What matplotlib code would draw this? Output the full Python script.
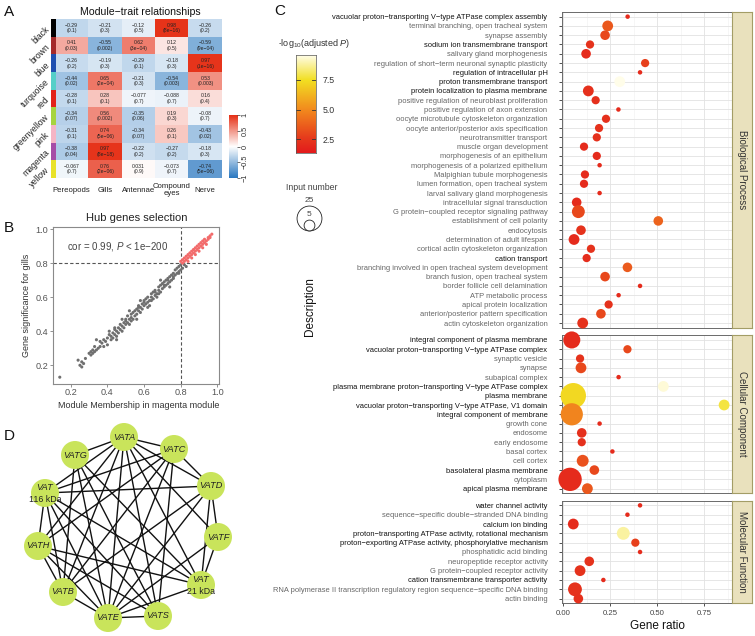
import numpy as np
import matplotlib
matplotlib.use('Agg')
import matplotlib.pyplot as plt
from matplotlib.colors import LinearSegmentedColormap, Normalize, ListedColormap
from matplotlib.patches import Circle

plt.rcParams['font.family'] = ['Liberation Sans', 'DejaVu Sans']
plt.rcParams['mathtext.fontset'] = 'custom'
plt.rcParams['mathtext.rm'] = 'Liberation Sans'
plt.rcParams['mathtext.it'] = 'Liberation Sans:italic'

# ---------------- data: panel A ----------------
modules = ['black', 'brown', 'blue', 'turquoise', 'red', 'greenyellow', 'pink', 'magenta', 'yellow']
module_colors = ['#000000', '#a52a2a', '#1f4fb0', '#55cfc8', '#e2231a', '#a6d43f', '#f5b5c5', '#a64ca6', '#e8e22a']
traits = ['Pereopods', 'Gills', 'Antennae', 'Compound\neyes', 'Nerve']
corr = [
    [-0.29, -0.21, -0.12, 0.98, -0.26],
    [0.41, -0.55, 0.62, 0.12, -0.59],
    [-0.26, -0.19, -0.29, -0.18, 0.97],
    [-0.44, 0.65, -0.21, -0.54, 0.53],
    [-0.28, 0.28, -0.077, -0.088, 0.16],
    [-0.34, 0.56, -0.35, 0.19, -0.08],
    [-0.31, 0.74, -0.34, 0.26, -0.43],
    [-0.38, 0.97, -0.22, -0.27, -0.18],
    [-0.067, 0.76, 0.031, -0.073, -0.74],
]
pvals = [
    ['0.1', '0.3', '0.5', '8e-16', '0.2'],
    ['0.03', '0.002', '3e-04', '0.5', '9e-04'],
    ['0.2', '0.3', '0.1', '0.3', '1e-16'],
    ['0.02', '2e-04', '0.3', '0.003', '0.003'],
    ['0.1', '0.1', '0.7', '0.7', '0.4'],
    ['0.07', '0.002', '0.06', '0.3', '0.7'],
    ['0.1', '5e-06', '0.07', '0.1', '0.02'],
    ['0.04', '8e-18', '0.2', '0.2', '0.3'],
    ['0.7', '2e-06', '0.9', '0.7', '5e-06'],
]

# ---------------- data: panel B ----------------
mm_grey = [0.14, 0.24, 0.25, 0.26, 0.26, 0.27, 0.28, 0.30, 0.31, 0.31, 0.32, 0.32, 0.33, 0.33, 0.34, 0.34,
           0.35, 0.36, 0.37, 0.38, 0.38, 0.39, 0.40, 0.40, 0.41, 0.42, 0.42, 0.43, 0.43, 0.44, 0.44, 0.45,
           0.45, 0.46, 0.46, 0.47, 0.47, 0.48, 0.48, 0.49, 0.49, 0.50, 0.50, 0.51, 0.51, 0.52, 0.52, 0.53,
           0.53, 0.54, 0.54, 0.55, 0.55, 0.56, 0.56, 0.57, 0.57, 0.58, 0.58, 0.59, 0.59, 0.60, 0.60, 0.61,
           0.61, 0.62, 0.62, 0.63, 0.63, 0.64, 0.64, 0.65, 0.65, 0.66, 0.66, 0.67, 0.67, 0.68, 0.68, 0.69,
           0.69, 0.70, 0.70, 0.71, 0.71, 0.72, 0.72, 0.73, 0.73, 0.74, 0.74, 0.75, 0.75, 0.76, 0.76, 0.77,
           0.77, 0.78, 0.78, 0.79, 0.79, 0.80, 0.80, 0.81, 0.82, 0.83, 0.45, 0.52, 0.58, 0.62, 0.69, 0.74,
           0.56, 0.48, 0.41, 0.36, 0.53, 0.60, 0.66, 0.71, 0.76, 0.64, 0.57, 0.50, 0.44, 0.68, 0.73, 0.79]
gs_grey = [0.13, 0.23, 0.20, 0.19, 0.22, 0.21, 0.24, 0.27, 0.28, 0.26, 0.27, 0.29, 0.28, 0.31, 0.35, 0.29,
           0.30, 0.31, 0.33, 0.31, 0.35, 0.34, 0.32, 0.36, 0.38, 0.35, 0.37, 0.39, 0.36, 0.38, 0.41, 0.37,
           0.40, 0.39, 0.42, 0.41, 0.44, 0.40, 0.43, 0.45, 0.42, 0.44, 0.47, 0.45, 0.49, 0.47, 0.44, 0.48,
           0.50, 0.47, 0.51, 0.49, 0.52, 0.50, 0.53, 0.52, 0.55, 0.51, 0.54, 0.56, 0.53, 0.55, 0.58, 0.56,
           0.59, 0.57, 0.60, 0.58, 0.55, 0.60, 0.62, 0.59, 0.63, 0.61, 0.64, 0.62, 0.60, 0.64, 0.66, 0.63,
           0.67, 0.65, 0.68, 0.66, 0.69, 0.67, 0.70, 0.68, 0.71, 0.69, 0.72, 0.70, 0.73, 0.71, 0.74, 0.73,
           0.76, 0.74, 0.77, 0.75, 0.78, 0.76, 0.79, 0.77, 0.79, 0.78, 0.35, 0.52, 0.58, 0.54, 0.70, 0.66,
           0.47, 0.47, 0.40, 0.34, 0.46, 0.57, 0.63, 0.67, 0.72, 0.58, 0.54, 0.46, 0.42, 0.62, 0.70, 0.74]
mm_red = [0.80, 0.81, 0.81, 0.82, 0.82, 0.83, 0.83, 0.84, 0.84, 0.85, 0.85, 0.86, 0.86, 0.87, 0.87, 0.88,
          0.88, 0.89, 0.89, 0.90, 0.90, 0.91, 0.91, 0.92, 0.92, 0.93, 0.93, 0.94, 0.94, 0.95, 0.95, 0.96,
          0.96, 0.97, 0.84, 0.86, 0.88, 0.90, 0.92]
gs_red = [0.81, 0.82, 0.80, 0.81, 0.83, 0.82, 0.84, 0.83, 0.81, 0.84, 0.86, 0.85, 0.83, 0.86, 0.88, 0.87,
          0.85, 0.88, 0.90, 0.89, 0.87, 0.90, 0.92, 0.91, 0.89, 0.92, 0.94, 0.93, 0.91, 0.94, 0.95, 0.95,
          0.96, 0.97, 0.85, 0.87, 0.89, 0.91, 0.93]
b_ticks = [0.2, 0.4, 0.6, 0.8, 1.0]

# ---------------- data: panel C ----------------
bp_terms = ['vacuolar proton\u2212transporting V\u2212type ATPase complex assembly',
            'terminal branching, open tracheal system', 'synapse assembly',
            'sodium ion transmembrane transport', 'salivary gland morphogenesis',
            'regulation of short\u2212term neuronal synaptic plasticity', 'regulation of intracellular pH',
            'proton transmembrane transport', 'protein localization to plasma membrane',
            'positive regulation of neuroblast proliferation', 'positive regulation of axon extension',
            'oocyte microtubule cytoskeleton organization', 'oocyte anterior/posterior axis specification',
            'neurotransmitter transport', 'muscle organ development', 'morphogenesis of an epithelium',
            'morphogenesis of a polarized epithelium', 'Malpighian tubule morphogenesis',
            'lumen formation, open tracheal system', 'larval salivary gland morphogenesis',
            'intracellular signal transduction', 'G protein\u2212coupled receptor signaling pathway',
            'establishment of cell polarity', 'endocytosis', 'determination of adult lifespan',
            'cortical actin cytoskeleton organization', 'cation transport',
            'branching involved in open tracheal system development', 'branch fusion, open tracheal system',
            'border follicle cell delamination', 'ATP metabolic process', 'apical protein localization',
            'anterior/posterior pattern specification', 'actin cytoskeleton organization']
bp_ratio = [0.342, 0.236, 0.222, 0.142, 0.121, 0.435, 0.408, 0.300, 0.133, 0.172, 0.293, 0.227, 0.190, 0.178,
            0.110, 0.178, 0.193, 0.115, 0.110, 0.193, 0.071, 0.080, 0.505, 0.094, 0.057, 0.147, 0.124, 0.341,
            0.222, 0.408, 0.294, 0.241, 0.200, 0.103]
bp_count = [1, 5, 4, 3, 4, 3, 1, 5, 5, 3, 1, 3, 3, 3, 3, 3, 1, 3, 3, 1, 4, 7, 4, 4, 5, 3, 3, 4, 4, 1, 1, 3, 4, 5]
bp_logp = [2.0, 3.5, 3.0, 2.3, 2.0, 2.8, 2.0, 9.6, 2.2, 2.2, 2.0, 2.2, 2.3, 2.2, 2.0, 2.0, 2.0, 2.0, 2.0, 2.0,
           2.0, 3.0, 3.8, 2.3, 2.0, 2.3, 2.1, 3.6, 3.0, 2.0, 2.0, 2.3, 3.0, 2.3]
bp_dark = [1, 0, 0, 1, 0, 0, 1, 1, 1, 0, 0, 0, 0, 0, 0, 0, 0, 0, 0, 0, 0, 0, 0, 0, 0, 0, 1, 0, 0, 0, 0, 0, 0, 0]

cc_terms = ['integral component of plasma membrane', 'vacuolar proton\u2212transporting V\u2212type ATPase complex',
            'synaptic vesicle', 'synapse', 'subapical complex',
            'plasma membrane proton\u2212transporting V\u2212type ATPase complex', 'plasma membrane',
            'vacuolar proton\u2212transporting V\u2212type ATPase, V1 domain', 'integral component of membrane',
            'growth cone', 'endosome', 'early endosome', 'basal cortex', 'cell cortex',
            'basolateral plasma membrane', 'cytoplasm', 'apical plasma membrane']
cc_ratio = [0.045, 0.341, 0.089, 0.094, 0.294, 0.532, 0.053, 0.855, 0.045, 0.193, 0.098, 0.098, 0.261, 0.103,
            0.165, 0.036, 0.128]
cc_count = [12, 3, 3, 5, 1, 5, 26, 5, 20, 1, 4, 3, 1, 6, 4, 22, 5]
cc_logp = [2.0, 3.0, 2.3, 3.0, 2.0, 9.4, 7.3, 7.8, 4.8, 2.0, 2.2, 2.2, 2.0, 3.3, 3.0, 2.0, 3.5]
cc_dark = [1, 1, 0, 0, 0, 1, 1, 1, 1, 0, 0, 0, 0, 0, 1, 0, 1]

mf_terms = ['water channel activity', 'sequence\u2212specific double\u2212stranded DNA binding', 'calcium ion binding',
            'proton\u2212transporting ATPase activity, rotational mechanism',
            'proton\u2212exporting ATPase activity, phosphorylative mechanism', 'phosphatidic acid binding',
            'neuropeptide receptor activity', 'G protein\u2212coupled receptor activity',
            'cation transmembrane transporter activity',
            'RNA polymerase II transcription regulatory region sequence\u2212specific DNA binding', 'actin binding']
mf_ratio = [0.408, 0.341, 0.053, 0.319, 0.383, 0.408, 0.138, 0.089, 0.213, 0.062, 0.080]
mf_count = [1, 1, 5, 7, 3, 1, 4, 5, 1, 8, 4]
mf_logp = [2.0, 2.0, 2.0, 8.8, 2.8, 2.0, 2.3, 2.3, 2.0, 2.3, 2.2]
mf_dark = [1, 0, 1, 1, 1, 0, 0, 0, 1, 0, 0]

facet_names = ['Biological Process', 'Cellular Component', 'Molecular Function']
ratio_ticks = [0.0, 0.25, 0.5, 0.75]
logp_ticks = [2.5, 5.0, 7.5]
legend_counts = [25, 5]

# ---------------- data: panel D ----------------
genes = ['VATA', 'VATG', 'VATC', 'VAT\n116 kDa', 'VATD', 'VATF', 'VATH', 'VAT\n21 kDa', 'VATB', 'VATE', 'VATS']
edges = [('VATA', 'VATG'), ('VATA', 'VATC'), ('VATA', 'VAT\n116 kDa'), ('VATA', 'VATD'), ('VATA', 'VATH'),
         ('VATA', 'VATB'), ('VATA', 'VATE'), ('VATA', 'VATS'), ('VATA', 'VAT\n21 kDa'), ('VATA', 'VATF'),
         ('VATG', 'VATE'), ('VATG', 'VATB'), ('VATG', 'VATS'), ('VATG', 'VAT\n21 kDa'),
         ('VATC', 'VAT\n116 kDa'), ('VATC', 'VATH'), ('VATC', 'VATE'), ('VATC', 'VATB'), ('VATC', 'VATD'),
         ('VATC', 'VATS'), ('VATD', 'VAT\n116 kDa'), ('VATD', 'VATE'), ('VATD', 'VATB'), ('VATD', 'VATF'),
         ('VATD', 'VAT\n21 kDa'), ('VAT\n116 kDa', 'VATH'), ('VAT\n116 kDa', 'VATB'), ('VAT\n116 kDa', 'VATE'),
         ('VAT\n116 kDa', 'VAT\n21 kDa'), ('VAT\n116 kDa', 'VATS'), ('VATF', 'VATE'), ('VATF', 'VAT\n21 kDa'),
         ('VATH', 'VATB'), ('VATH', 'VATE'), ('VATH', 'VAT\n21 kDa'), ('VATH', 'VATS'), ('VATB', 'VATE'),
         ('VATE', 'VATS'), ('VATE', 'VAT\n21 kDa')]

# ---------------- layout (pixel positions) ----------------
W, H = 755, 636
fig = plt.figure(figsize=(W / 100, H / 100), dpi=100)


def ax_px(x0, y0, x1, y1):
    return fig.add_axes([x0 / W, 1 - y1 / H, (x1 - x0) / W, (y1 - y0) / H])


def fmt(v):
    return ('%g' % v).replace('-', '\u2212')


node_pos = {'VATA': (124, 437), 'VATG': (75, 455), 'VATC': (174, 449), 'VAT\n116 kDa': (45, 493),
            'VATD': (211, 486), 'VATF': (218, 537), 'VATH': (38, 546), 'VAT\n21 kDa': (201, 585),
            'VATB': (63, 592), 'VATE': (108, 618), 'VATS': (158, 616)}

# ---------------- Panel A ----------------
hm_cmap = LinearSegmentedColormap.from_list('bwr_w', ['#2a78c0', '#ffffff', '#e63016'])
hx0, hy0, hx1, hy1 = 55, 19.3, 222, 177.7
axh = ax_px(hx0, hy0, hx1, hy1)
axh.imshow(np.array(corr), cmap=hm_cmap, vmin=-1, vmax=1, aspect='auto', interpolation='nearest')
for i in range(len(modules)):
    for j in range(len(traits)):
        axh.text(j, i, fmt(corr[i][j]) + '\n(' + pvals[i][j].replace('-', '\u2212') + ')',
                 ha='center', va='center', fontsize=3.7, color='#222222', linespacing=1.15)
axh.set_xticks([]); axh.set_yticks([])
for s in axh.spines.values():
    s.set_visible(False)

axs = ax_px(50.5, hy0, hx0, hy1)
axs.imshow(np.arange(len(modules))[:, None], cmap=ListedColormap(module_colors), aspect='auto',
           interpolation='nearest')
axs.set_xticks([]); axs.set_yticks([])
for s in axs.spines.values():
    s.set_visible(False)

cax = ax_px(229, 115, 237, 178)
cax.imshow(np.linspace(-1, 1, 200)[:, None], cmap=hm_cmap, vmin=-1, vmax=1, aspect='auto',
           origin='lower', extent=[0, 1, -1, 1])
cax.set_xticks([])
cax.yaxis.tick_right()
cax.set_yticks([-1, -0.5, 0, 0.5, 1])
cax.set_yticklabels([fmt(v) for v in [-1, -0.5, 0, 0.5, 1]], rotation=90, va='center', fontsize=5.3)
cax.tick_params(axis='y', length=2, width=0.5, pad=1.5, colors='#333333')
for s in cax.spines.values():
    s.set_visible(False)

# ---------------- Panel B ----------------
axb = ax_px(53, 227, 219, 384)
axb.scatter(mm_grey, gs_grey, s=5, color='#6f6f6f', edgecolors='none', zorder=2)
axb.scatter(mm_red, gs_red, s=5, color='#f26b6b', edgecolors='none', zorder=3)
axb.axhline(0.8, ls=(0, (3, 2)), color='#555555', lw=0.8, zorder=1)
axb.axvline(0.8, ls=(0, (3, 2)), color='#555555', lw=0.8, zorder=1)
axb.set_xlim(0.103, 1.009)
axb.set_ylim(0.09, 1.012)
axb.set_xticks(b_ticks)
axb.set_yticks(b_ticks)
axb.tick_params(length=2, width=0.6, color='#808080', labelcolor='#555555', labelsize=6.6, pad=1.2)
for s in axb.spines.values():
    s.set_color('#8a8a8a'); s.set_linewidth(0.8)
axb.text(0.18, 0.9, 'cor = 0.99, $\\mathit{P}$ < 1e\u2212200', fontsize=7, color='#444444', va='center')

# ---------------- Panel C ----------------
c_cmap = LinearSegmentedColormap.from_list('rywt', [(0.0, '#e31a1c'), (0.15, '#e63a1c'),
                                                    (0.442, '#f28a1e'), (0.745, '#f2df22'),
                                                    (1.0, '#fffde9')])
c_norm = Normalize(1.35, 9.6)


def size_pt2(n):
    d_px = 5.1 * np.sqrt(np.asarray(n, dtype=float)) - 0.6
    return (d_px * 0.72) ** 2


facets = [(bp_terms, bp_ratio, bp_count, bp_logp, bp_dark, 12, 327.7),
          (cc_terms, cc_ratio, cc_count, cc_logp, cc_dark, 335.3, 493.3),
          (mf_terms, mf_ratio, mf_count, mf_logp, mf_dark, 500.7, 603.3)]
for k, (terms, ratio, count, logp, dark, y0, y1) in enumerate(facets):
    n = len(terms)
    ax = ax_px(562, y0, 732, y1)
    ypos = np.arange(n)[::-1]
    ax.scatter(ratio, ypos, s=size_pt2(count), c=logp, cmap=c_cmap, norm=c_norm, edgecolors='none',
               zorder=3, clip_on=False)
    ax.set_xlim(-0.007, 0.897)
    ax.set_ylim(-0.5, n - 0.5)
    ax.set_xticks(ratio_ticks)
    ax.set_xticks([0.125, 0.375, 0.625, 0.875], minor=True)
    ax.set_yticks(ypos)
    ax.set_yticklabels(terms, fontsize=5.4)
    for lbl, d in zip(ax.get_yticklabels(), dark):
        lbl.set_color('#111111' if d else '#666666')
    ax.grid(which='major', color='#e2e2e2', lw=0.6)
    ax.grid(which='minor', axis='x', color='#f0f0f0', lw=0.4)
    ax.set_axisbelow(True)
    ax.tick_params(axis='y', length=2.5, width=0.6, color='#333333', pad=8)
    ax.tick_params(axis='x', which='minor', length=0)
    if k < 2:
        ax.tick_params(axis='x', length=0, labelbottom=False)
    else:
        ax.set_xticklabels(['0.00', '0.25', '0.50', '0.75'])
        ax.tick_params(axis='x', length=2.5, width=0.6, color='#333333', labelsize=5.6,
                       labelcolor='#444444', pad=2)
    for s in ax.spines.values():
        s.set_color('#6a6a6a'); s.set_linewidth(0.7)
    st = ax_px(732, y0, 752, y1)
    st.set_facecolor('#e9e1bd')
    st.set_xticks([]); st.set_yticks([])
    for s in st.spines.values():
        s.set_color('#a39d66'); s.set_linewidth(0.8)
    st.text(0.5, 0.5, facet_names[k], rotation=-90, ha='center', va='center', fontsize=7,
            color='#333333', transform=st.transAxes)

cax2 = ax_px(296, 55, 316, 153)
cax2.imshow(np.linspace(1.35, 9.6, 256)[:, None], cmap=c_cmap, norm=c_norm, aspect='auto',
            origin='lower', extent=[0, 1, 1.35, 9.6])
cax2.set_xticks([])
cax2.yaxis.tick_right()
cax2.set_yticks(logp_ticks)
cax2.set_yticklabels(['%.1f' % v for v in logp_ticks], fontsize=6.3, color='#333333')
cax2.tick_params(axis='y', length=0, pad=4.5)
for v in logp_ticks:
    cax2.plot([0, 0.22], [v, v], color='#333333', lw=0.6)
    cax2.plot([0.78, 1], [v, v], color='#333333', lw=0.6)
cax2.set_xlim(0, 1); cax2.set_ylim(1.35, 9.6)
for s in cax2.spines.values():
    s.set_color('#555555'); s.set_linewidth(0.5)

# ---------------- overlay (texts, legend, network) ----------------
ov = ax_px(0, 0, W, H)
ov.set_xlim(0, W); ov.set_ylim(H, 0)
ov.axis('off')

for lab, (x, y) in zip(['A', 'B', 'C', 'D'], [(9, 12), (9, 228), (280, 11), (9, 436)]):
    ov.text(x, y, lab, fontsize=11, ha='center', va='center', color='#111111')

ov.text(140, 12, 'Module\u2212trait relationships', fontsize=7.6, ha='center', va='center', color='#111111')
rh = (hy1 - hy0) / len(modules)
for i, m in enumerate(modules):
    ov.text(48, hy0 + (i + 0.5) * rh, m, rotation=45, rotation_mode='anchor', ha='right', va='center',
            fontsize=6.2, color='#222222')
cw = (hx1 - hx0) / len(traits)
for j, t in enumerate(traits):
    ov.text(hx0 + (j + 0.5) * cw, 190, t, ha='center', va='center', fontsize=5.6, color='#222222',
            linespacing=1.1)

ov.text(137, 218, 'Hub genes selection', fontsize=8, ha='center', va='center', color='#222222')
ov.text(139, 405, 'Module Membership in magenta module', fontsize=6.5, ha='center', va='center',
        color='#333333')
ov.text(27, 305, 'Gene significance for gills', fontsize=6.5, ha='center', va='center', rotation=90,
        color='#333333')

ov.text(310, 307, 'Description', fontsize=8.5, ha='center', va='center', rotation=90, color='#111111')
ov.text(657, 626, 'Gene ratio', fontsize=8.5, ha='center', va='center', color='#111111')
ov.text(278, 43, '-log$_{10}$(adjusted $\\mathit{P}$)', fontsize=6.5, ha='left', va='center',
        color='#333333')
ov.text(312, 187, 'Input number', fontsize=6.3, ha='center', va='center', color='#444444')
leg_s = size_pt2(legend_counts)
leg_d = np.sqrt(leg_s) / 0.72
for n_leg, s_leg, d_leg in zip(legend_counts, leg_s, leg_d):
    ov.scatter([309], [230 - d_leg / 2], s=s_leg, facecolors='white', edgecolors='#222222', lw=0.6,
               zorder=3)
ov.text(309, 200, str(legend_counts[0]), fontsize=6, ha='center', va='center', color='#444444')
ov.text(309, 215, str(legend_counts[1]), fontsize=6, ha='center', va='center', color='#444444', zorder=4)

for a, b in edges:
    (xa, ya), (xb, yb) = node_pos[a], node_pos[b]
    ov.plot([xa, xb], [ya, yb], color='#111111', lw=1.0, zorder=2, solid_capstyle='butt')
for g in genes:
    x, y = node_pos[g]
    ov.add_patch(Circle((x, y), 14, facecolor='#c9e45b', edgecolor='none', zorder=3))
    if '\n' in g:
        top, bot = g.split('\n')
        ov.text(x, y - 5, top, fontsize=6.6, style='italic', ha='center', va='center', color='#222222',
                zorder=4)
        ov.text(x, y + 6, bot, fontsize=6.3, ha='center', va='center', color='#222222', zorder=4)
    else:
        ov.text(x, y, g, fontsize=6.6, style='italic', ha='center', va='center', color='#222222', zorder=4)

fig.savefig('out.png', dpi=100)
